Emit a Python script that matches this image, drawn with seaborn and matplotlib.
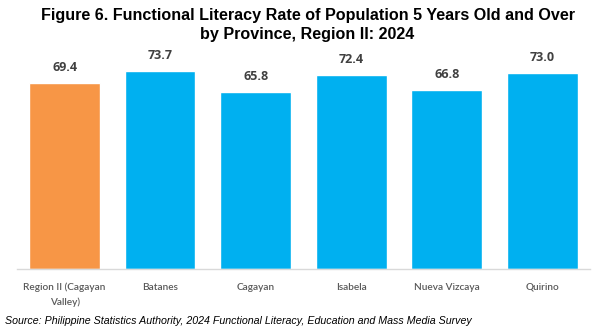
import matplotlib
matplotlib.use("Agg")
import matplotlib.pyplot as plt
import seaborn as sns
import pandas as pd
import numpy as np

categories = ["Region II (Cagayan\nValley)", "Batanes", "Cagayan", "Isabela", "Nueva Vizcaya", "Quirino"]
values = [69.4, 73.7, 65.8, 72.4, 66.8, 73.0]
colors = ["#F79646", "#00B0F0", "#00B0F0", "#00B0F0", "#00B0F0", "#00B0F0"]

sns.set_theme(style="white")
plt.rcParams['font.family'] = ['Liberation Sans', 'DejaVu Sans']

df = pd.DataFrame({"cat": categories, "val": values})

fig = plt.figure(figsize=(6.02, 3.30), dpi=100)
ax = fig.add_axes([0.028, 0.185, 0.952, 0.651])
sns.barplot(data=df, x="cat", y="val", hue="cat", palette=colors, legend=False,
            width=0.74, ax=ax, saturation=1)

ax.set_ylim(0, 80)
ax.set_xlim(-0.5, len(categories) - 0.5)
ax.set_yticks([])
ax.set_xlabel("")
ax.set_ylabel("")
for s in ["top", "right", "left"]:
    ax.spines[s].set_visible(False)
ax.spines["bottom"].set_color("#D9D9D9")
ax.spines["bottom"].set_linewidth(1)

ax.set_xticks(range(len(categories)))
ax.set_xticklabels(categories, family=['Lato', 'DejaVu Sans'], fontsize=7.2, color="#595959",
                   linespacing=1.7, fontweight="semibold")
ax.tick_params(axis="x", which="major", length=0, pad=10)
ax.set_xticks(np.arange(-0.5, len(categories)), minor=True)
ax.tick_params(axis="x", which="minor", length=4, color="#D9D9D9", width=1, direction="out")

for i, v in enumerate(values):
    ax.text(i, v + 3.3, f"{v:.1f}", ha="center", va="bottom", fontsize=9,
            fontweight="bold", color="#404040", family=['Open Sans', 'DejaVu Sans'])

fig.text(0.511, 0.975, "Figure 6. Functional Literacy Rate of Population 5 Years Old and Over\nby Province, Region II: 2024",
         ha="center", va="top", fontsize=11.6, fontweight="bold", linespacing=1.3, color="black",
         family=['Liberation Sans', 'DejaVu Sans'])

fig.text(0.008, 0.018, "Source: Philippine Statistics Authority, 2024 Functional Literacy, Education and Mass Media Survey",
         ha="left", va="baseline", fontsize=7.7, style="italic", color="black",
         family=['Liberation Sans', 'DejaVu Sans'])

fig.savefig("out.png", dpi=100)
